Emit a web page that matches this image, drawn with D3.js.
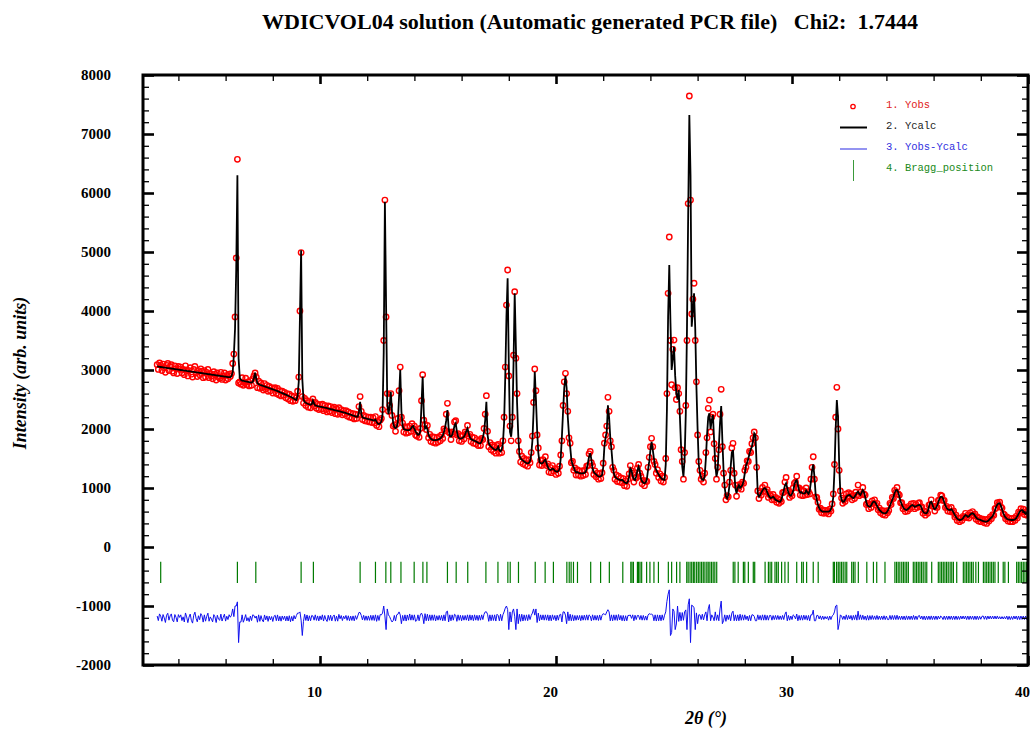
<!DOCTYPE html>
<html>
<head>
<meta charset="utf-8">
<script src="https://cdn.jsdelivr.net/npm/d3@7"></script>
<style>
  body { margin: 0; background: #fff; }
  svg { display: block; font-family: "Liberation Serif", "Times New Roman", serif; }
</style>
</head>
<body>
<div id="chart"></div>
<script>
// step scan: 2theta from 3.10 in steps of 0.05 deg
const tthStart = 3.10, tthStep = 0.05;

const yObs = [
  3090,3010,3120,3080,2990,3100,3040,2960,3080,3110,2990,3060,3090,2980,2950,3070,3020,2940,3060,3010,
  3050,2950,3010,2920,3070,3000,2900,2990,3040,2930,2880,3010,3060,2950,2890,2990,2920,3020,2980,2870,
  2990,2880,2960,3010,2870,2940,2900,2850,2970,2930,2830,2950,2880,2860,2960,2840,2900,2950,2830,2910,
  2850,2930,2890,2940,3110,3270,3900,4900,6570,2780,2800,2760,2870,2740,2790,2860,2750,2800,2730,2820,
  2740,2850,2900,2950,2880,2700,2810,2690,2780,2700,2660,2770,2680,2740,2640,2720,2650,2700,2610,2690,
  2700,2600,2690,2580,2650,2560,2640,2570,2620,2530,2600,2510,2590,2480,2560,2470,2550,2480,2530,2640,
  2880,4000,4990,2550,2440,2520,2400,2480,2370,2450,2360,2460,2510,2390,2450,2350,2420,2330,2410,2340,
  2420,2310,2400,2330,2290,2390,2300,2380,2280,2350,2370,2260,2340,2250,2360,2280,2330,2240,2310,2260,
  2310,2220,2290,2200,2270,2190,2260,2170,2250,2180,2240,2380,2550,2300,2160,2230,2140,2210,2130,2200,
  2120,2200,2110,2190,2100,2210,2060,2130,2040,2150,2180,2330,3500,5880,3900,2600,2300,2400,2600,2230,
  2050,2070,1960,2080,2180,2650,3050,2200,2100,1950,2040,1930,2030,1940,2050,1960,2090,2010,2050,1900,
  1880,1950,1860,2010,2480,2920,2150,2080,1990,2060,1850,1910,1790,1870,1770,1860,1760,1850,1780,1870,
  1800,1900,1840,2000,1970,2250,2435,1950,1930,1820,1950,1920,2120,2140,1900,1920,1800,1880,1790,1890,
  1830,1950,1920,2060,1880,1910,1790,1860,1760,1850,1750,1820,1720,1800,1720,1840,1820,2010,2250,2565,
  1960,1700,1770,1650,1730,1620,1700,1590,1720,1740,1590,1680,1600,1800,2200,3050,4100,4695,2900,2050,
  1800,2200,3250,4327,3200,2600,1800,1620,1440,1540,1410,1500,1390,1470,1370,1480,1430,1600,1880,2450,
  3017,2650,1900,1680,1390,1470,1380,1480,1420,1530,1380,1410,1270,1350,1260,1380,1290,1330,1230,1320,
  1250,1370,1560,1800,2400,2800,2944,2600,2300,1850,1760,1430,1450,1300,1340,1220,1310,1220,1290,1200,
  1290,1210,1300,1230,1370,1380,1580,1620,1430,1380,1230,1290,1190,1250,1150,1240,1160,1260,1420,1760,
  1900,2050,2537,2300,1800,1700,1350,1300,1150,1220,1110,1200,1100,1170,1090,1160,1040,1120,1030,1150,
  1240,1380,1290,1250,1100,1180,1170,1340,1400,1250,1200,1070,1130,1040,1120,1110,1350,1520,1700,1842,
  1700,1450,1400,1250,1310,1180,1240,1120,1200,1100,1180,1500,2600,4300,5254,3500,2750,3350,3508,2700,
  2500,2700,2600,2300,1650,1450,1150,1600,2400,3500,5820,7644,5880,3950,4200,4470,3500,2800,1900,1450,
  1300,1150,1200,1100,1250,1600,1850,2350,2491,1950,2200,2250,1750,1500,1150,1350,1650,2250,2673,1700,
  1250,1050,800,870,850,1100,1300,1680,1757,1250,1050,860,1050,1000,1060,980,1100,1080,1300,1350,
  1460,1450,1620,1600,1750,1850,1950,1850,1350,950,820,920,880,1010,950,1050,940,970,840,890,
  870,800,890,800,840,760,820,740,800,770,920,930,1100,1180,950,960,840,900,870,1000,
  1080,1100,1200,1000,1000,880,970,870,950,880,1000,890,940,900,1150,1350,1530,1150,850,840,
  760,640,660,580,630,570,620,580,620,560,640,610,730,900,1400,2200,2707,2000,1300,950,
  830,740,800,770,900,840,920,860,900,800,870,820,930,880,1050,870,930,890,1010,900,
  880,720,740,650,720,670,780,740,800,710,740,630,660,580,620,550,610,540,610,580,
  620,740,720,840,820,960,930,1010,900,880,750,750,650,680,600,660,610,690,650,730,
  680,740,650,720,670,740,751,680,680,570,610,540,600,570,710,720,800,690,690,610,
  690,670,790,800,880,864,790,790,670,690,610,660,600,670,590,610,510,540,450,490,
  430,490,450,520,500,570,500,540,490,580,540,600,530,560,470,510,440,490,430,470,
  470,410,460,400,470,440,510,480,550,540,650,660,751,720,760,680,660,560,550,480,
  510,440,490,430,480,430,490,450,520,490,590,570,650,600,640,550,590,540,620
];

const yCalc = [
  3060,3057,3054,3051,3048,3045,3042,3039,3036,3033,3030,3027,3024,3021,3018,3015,3012,3009,3006,3003,
  3000,2997,2994,2991,2988,2985,2982,2979,2976,2973,2970,2967,2964,2961,2958,2955,2952,2949,2946,2943,
  2940,2937,2934,2931,2928,2925,2922,2919,2916,2913,2910,2907,2904,2901,2898,2895,2892,2889,2886,2883,
  2880,2878,2880,2895,2960,3250,3700,4700,6300,3200,2870,2832,2820,2815,2810,2806,2802,2798,2794,2790,
  2787,2800,2860,2955,2850,2775,2760,2750,2743,2736,2729,2722,2715,2708,2700,2693,2686,2679,2672,2665,
  2657,2649,2641,2633,2625,2617,2609,2600,2591,2582,2573,2564,2555,2546,2537,2525,2512,2500,2492,2560,
  2800,3900,5030,2850,2500,2460,2445,2432,2424,2416,2410,2420,2480,2430,2400,2394,2388,2383,2378,2374,
  2370,2365,2361,2357,2352,2347,2342,2337,2332,2327,2322,2317,2312,2307,2302,2297,2292,2287,2282,2277,
  2270,2263,2256,2249,2242,2235,2228,2221,2214,2207,2210,2290,2460,2260,2195,2188,2183,2178,2173,2168,
  2163,2158,2153,2148,2145,2160,2120,2090,2085,2095,2130,2250,3300,5850,4100,2450,2250,2380,2630,2300,
  2100,2030,2015,2030,2120,2550,3000,2300,2060,2000,1990,1985,1982,1980,1985,2000,2040,2050,2000,1960,
  1925,1900,1910,1960,2400,2890,2250,2010,2040,2000,1900,1860,1835,1820,1813,1810,1812,1815,1820,1830,
  1840,1860,1890,1950,2020,2150,2322,2020,1880,1870,1900,1960,2060,2096,1960,1870,1842,1838,1840,1850,
  1870,1910,1960,2010,1930,1860,1830,1815,1808,1800,1790,1778,1766,1757,1760,1790,1850,1950,2150,2463,
  1900,1760,1720,1700,1680,1665,1650,1645,1660,1700,1640,1620,1650,1750,2100,2887,3900,4554,3100,1950,
  1870,2100,3100,4300,3400,2450,1900,1560,1500,1480,1465,1450,1435,1420,1418,1425,1460,1560,1800,2300,
  2972,2500,1980,1600,1440,1420,1415,1430,1460,1480,1420,1360,1320,1305,1310,1330,1320,1290,1280,1276,
  1290,1320,1500,1870,2300,2700,2898,2700,2200,1900,1700,1480,1400,1350,1300,1262,1270,1258,1250,1249,
  1249,1250,1255,1270,1320,1420,1530,1590,1480,1330,1270,1249,1230,1210,1195,1192,1200,1220,1350,1700,
  1850,1950,2400,2200,1850,1650,1400,1250,1192,1170,1155,1145,1136,1130,1140,1120,1095,1085,1080,1110,
  1200,1333,1300,1200,1150,1136,1200,1300,1361,1280,1160,1110,1090,1080,1090,1150,1305,1450,1640,1780,
  1650,1500,1350,1305,1260,1230,1192,1170,1150,1140,1136,1400,2322,3900,4780,3800,3000,3200,3395,2900,
  2605,2500,2661,2208,1700,1361,1192,1500,2266,3700,5600,7322,6300,3734,4000,4300,3700,2717,2000,1400,
  1250,1180,1140,1136,1200,1500,1900,2200,2266,2000,2150,2237,1800,1400,1192,1300,1700,2100,2390,1800,
  1300,1000,860,825,880,1050,1350,1600,1644,1300,1000,910,1000,1050,1000,1022,1050,1120,1250,1380,
  1430,1500,1580,1650,1700,1800,1927,1900,1400,900,852,880,920,960,990,1000,980,930,880,850,
  830,840,852,830,800,790,780,770,768,800,880,960,1040,1080,1000,920,880,870,900,950,
  1050,1120,1136,1050,960,920,930,910,905,910,960,930,900,950,1100,1300,1400,1200,900,800,
  720,660,627,610,600,598,598,598,598,600,610,640,700,850,1300,2000,2491,2200,1400,900,
  800,768,770,800,850,870,880,881,860,840,830,850,880,920,937,900,880,920,966,930,
  850,760,700,690,683,700,740,768,768,740,700,660,630,610,590,580,575,571,580,610,
  650,700,750,800,850,920,960,966,930,850,780,720,680,650,635,627,640,660,680,700,
  710,700,680,690,700,710,712,700,650,600,580,575,571,600,680,750,768,720,660,640,
  660,700,760,820,850,852,820,760,700,660,640,630,627,640,620,580,540,510,480,465,
  458,460,470,490,520,540,530,510,520,550,565,571,560,530,500,480,470,465,455,445,
  440,435,430,429,440,460,480,500,520,560,620,680,720,740,740,700,640,580,530,500,
  480,470,465,460,458,458,460,470,490,520,560,600,620,627,610,580,560,570,590
];

// Yobs-Ycalc is drawn shifted down by this amount
const diffOffset = -1200;

const braggPos = [
  3.25, 6.50, 7.28, 9.20, 9.72, 11.70, 12.35, 12.79, 13.00, 13.43, 13.99, 14.36, 14.53, 15.40, 15.77,
  16.26, 17.03, 17.54, 17.96, 18.06, 18.41, 19.12, 19.54, 19.89, 20.46, 20.56, 20.64, 20.74, 20.91,
  21.47, 21.89, 22.26, 22.83, 23.17, 23.22, 23.28, 23.45, 23.50, 23.56, 23.63, 23.84, 23.98, 24.15,
  24.34, 24.76, 24.90, 25.11, 25.25, 25.54, 25.60, 25.68, 25.75, 25.82, 25.88, 25.96, 26.03, 26.10,
  26.17, 26.24, 26.31, 26.39, 26.45, 26.52, 26.59, 26.66, 26.73, 26.81, 27.51, 27.58, 27.72, 27.94,
  28.00, 28.15, 28.36, 28.42, 28.86, 29.00, 29.07, 29.14, 29.28, 29.35, 29.42, 29.56, 29.70, 29.84,
  30.20, 30.41, 30.48, 30.62, 30.90, 31.11, 31.75, 31.80, 31.89, 31.96, 32.03, 32.10, 32.17, 32.25,
  32.32, 32.53, 32.60, 32.67, 32.81, 33.17, 33.45, 33.59, 33.94, 34.36, 34.43, 34.50, 34.57, 34.65,
  34.72, 34.79, 34.86, 34.93, 35.14, 35.21, 35.28, 35.35, 35.42, 35.49, 35.56, 35.64, 35.71, 35.92,
  36.20, 36.27, 36.34, 36.41, 36.48, 36.55, 36.62, 36.70, 36.77, 36.84, 36.98, 37.26, 37.33, 37.40,
  37.47, 37.54, 37.61, 37.68, 37.79, 37.90, 38.11, 38.18, 38.25, 38.32, 38.39, 38.46, 38.53, 38.60,
  38.74, 38.95, 39.02, 39.17, 39.52, 39.59, 39.66, 39.73, 39.80, 39.87, 39.94
];
const braggTop = -250, braggBottom = -610;

const xMajorTicks = [10, 20, 30, 40];
const xMinorTicks = [4, 6, 8, 12, 14, 16, 18, 22, 24, 26, 28, 32, 34, 36, 38];
const yMajorTicks = [-2000, -1000, 0, 1000, 2000, 3000, 4000, 5000, 6000, 7000, 8000];
const yMinorTicks = d3.range(-1800, 8000, 200).filter(v => v % 1000 !== 0);

const titleText = 'WDICVOL04 solution (Automatic generated PCR file)   Chi2:  1.7444';
const legendNames = ['1. Yobs', '2. Ycalc', '3. Yobs-Ycalc', '4. Bragg_position'];

const width = 1030, height = 732;
const x = d3.scaleLinear().domain([2.5, 40]).range([143, 1028]);
const y = d3.scaleLinear().domain([-2000, 8000]).range([665, 75]);
const tth = i => tthStart + i * tthStep;

const svg = d3.select('#chart').append('svg')
  .attr('width', width)
  .attr('height', height);

// title
svg.append('text')
  .attr('x', 590).attr('y', 29)
  .attr('text-anchor', 'middle')
  .attr('textLength', 656).attr('lengthAdjust', 'spacingAndGlyphs')
  .style('font-size', '20px').style('font-weight', 'bold')
  .style('white-space', 'pre')
  .text(titleText);

svg.append('clipPath').attr('id', 'clip')
  .append('rect').attr('x', 143).attr('y', 75).attr('width', 885).attr('height', 590);

const plot = svg.append('g').attr('clip-path', 'url(#clip)');

// observed points
plot.append('g').selectAll('circle')
  .data(yObs)
  .join('circle')
    .attr('cx', (d, i) => x(tth(i)))
    .attr('cy', d => y(d))
    .attr('r', 2.7)
    .attr('fill', 'none')
    .attr('stroke', '#f00')
    .attr('stroke-width', 1.4);

// calculated profile
plot.append('path')
  .datum(yCalc)
  .attr('fill', 'none')
  .attr('stroke', '#000')
  .attr('stroke-width', 1.8)
  .attr('d', d3.line().x((d, i) => x(tth(i))).y(d => y(d)));

// difference curve
const n = Math.min(yObs.length, yCalc.length);
const diff = d3.range(n).map(i => yObs[i] - yCalc[i] + diffOffset);
plot.append('path')
  .datum(diff)
  .attr('fill', 'none')
  .attr('stroke', '#1010ee')
  .attr('stroke-width', 1)
  .attr('d', d3.line().x((d, i) => x(tth(i))).y(d => y(d)));

// bragg positions
plot.append('g').selectAll('line')
  .data(braggPos)
  .join('line')
    .attr('x1', d => x(d)).attr('x2', d => x(d))
    .attr('y1', y(braggTop)).attr('y2', y(braggBottom))
    .attr('stroke', '#007a00')
    .attr('stroke-width', 1.2);

// axes, ticks pointing inward
function styleTicks(g, w) {
  g.select('.domain').remove();
  g.selectAll('.tick line').attr('stroke', '#000').attr('stroke-width', w);
}
const plotBottom = y(-2000), plotTop = y(8000), plotLeft = x(2.5), plotRight = x(40);

svg.append('g').attr('transform', `translate(0,${plotBottom})`)
  .call(d3.axisBottom(x).tickValues(xMinorTicks).tickSize(-6).tickFormat(''))
  .call(g => styleTicks(g, 1.3));
svg.append('g').attr('transform', `translate(0,${plotBottom})`)
  .call(d3.axisBottom(x).tickValues(xMajorTicks).tickSize(-9).tickFormat(d => String(d)))
  .call(g => styleTicks(g, 2.6))
  .call(g => g.selectAll('text')
    .attr('y', 27).attr('dy', '0.35em').attr('dx', -6)
    .style('font-size', '15px').style('font-weight', 'bold')
    .style('font-family', '"Liberation Serif", serif').attr('fill', '#000'));

svg.append('g').attr('transform', `translate(0,${plotTop})`)
  .call(d3.axisTop(x).tickValues(xMinorTicks).tickSize(-6).tickFormat(''))
  .call(g => styleTicks(g, 1.3));
svg.append('g').attr('transform', `translate(0,${plotTop})`)
  .call(d3.axisTop(x).tickValues(xMajorTicks).tickSize(-9).tickFormat(''))
  .call(g => styleTicks(g, 2.6));

svg.append('g').attr('transform', `translate(${plotLeft},0)`)
  .call(d3.axisLeft(y).tickValues(yMinorTicks).tickSize(-6).tickFormat(''))
  .call(g => styleTicks(g, 1.3));
svg.append('g').attr('transform', `translate(${plotLeft},0)`)
  .call(d3.axisLeft(y).tickValues(yMajorTicks).tickSize(-11).tickPadding(32).tickFormat(d => String(d)))
  .call(g => styleTicks(g, 2.6))
  .call(g => g.selectAll('text')
    .style('font-size', '15px').style('font-weight', 'bold')
    .style('font-family', '"Liberation Serif", serif').attr('fill', '#000'));

svg.append('g').attr('transform', `translate(${plotRight},0)`)
  .call(d3.axisRight(y).tickValues(yMinorTicks).tickSize(-6).tickFormat(''))
  .call(g => styleTicks(g, 1.3));
svg.append('g').attr('transform', `translate(${plotRight},0)`)
  .call(d3.axisRight(y).tickValues(yMajorTicks).tickSize(-11).tickFormat(''))
  .call(g => styleTicks(g, 2.6));

// frame
svg.append('rect')
  .attr('x', plotLeft).attr('y', plotTop)
  .attr('width', plotRight - plotLeft).attr('height', plotBottom - plotTop)
  .attr('fill', 'none').attr('stroke', '#000').attr('stroke-width', 3);

// axis titles
svg.append('text')
  .attr('transform', 'translate(26,373) rotate(-90)')
  .attr('text-anchor', 'middle')
  .style('font-size', '18px').style('font-weight', 'bold').style('font-style', 'italic')
  .text('Intensity (arb. units)');

svg.append('text')
  .attr('x', 706).attr('y', 724)
  .attr('text-anchor', 'middle')
  .style('font-size', '18px').style('font-weight', 'bold').style('font-style', 'italic')
  .text('2θ (°)');

// legend
const legend = svg.append('g')
  .style('font-family', '"Liberation Mono", "DejaVu Sans Mono", monospace')
  .style('font-size', '10.5px');
const legendColors = ['#e02020', '#222', '#3030e0', '#208a20'];
const legendY = [104.5, 125.5, 146.5, 167];
legend.selectAll('text')
  .data(legendNames)
  .join('text')
    .attr('x', 886)
    .attr('y', (d, i) => legendY[i])
    .attr('dy', '0.35em')
    .attr('fill', (d, i) => legendColors[i])
    .text(d => d);
legend.append('circle')
  .attr('cx', 853).attr('cy', 106.5).attr('r', 2.2)
  .attr('fill', 'none').attr('stroke', '#f00').attr('stroke-width', 1.3);
legend.append('line')
  .attr('x1', 840).attr('x2', 867).attr('y1', 127.5).attr('y2', 127.5)
  .attr('stroke', '#000').attr('stroke-width', 2);
legend.append('line')
  .attr('x1', 840).attr('x2', 867).attr('y1', 149).attr('y2', 149)
  .attr('stroke', '#7a7aee').attr('stroke-width', 1.6);
legend.append('line')
  .attr('x1', 853.5).attr('x2', 853.5).attr('y1', 160).attr('y2', 181)
  .attr('stroke', '#3a9a3a').attr('stroke-width', 1);
</script>
</body>
</html>
